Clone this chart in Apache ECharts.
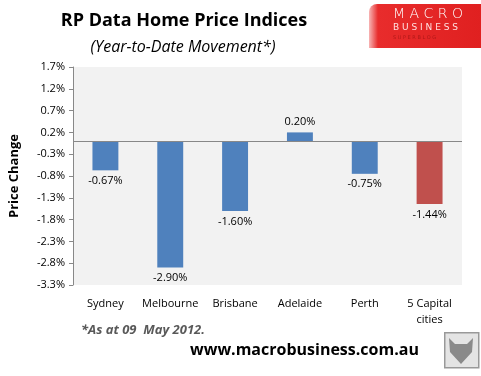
<!DOCTYPE html>
<html>
<head>
<meta charset="utf-8">
<script src="https://cdn.jsdelivr.net/npm/echarts@6/dist/echarts.min.js"></script>
<style>
  html, body { margin: 0; padding: 0; background: #fff; }
  #main { width: 481px; height: 376px; }
</style>
</head>
<body>
<div id="main"></div>
<script>
// 数据
var cities = ['Sydney', 'Melbourne', 'Brisbane', 'Adelaide', 'Perth', '5 Capital\ncities'];
var changes = [-0.67, -2.90, -1.60, 0.20, -0.75, -1.44];
var barColors = ['#4f81bd', '#4f81bd', '#4f81bd', '#4f81bd', '#4f81bd', '#c0504d'];

var myChart = echarts.init(document.getElementById('main'));

var option = {
    backgroundColor: '#fff',
    animation: false,
    textStyle: { fontFamily: 'Open Sans' },
    grid: { left: 66, right: 19, top: 67, bottom: 91, backgroundColor: '#f2f2f2', show: true, borderWidth: 0 },
    title: [
        { text: 'RP Data Home Price Indices', left: 179, top: 7, textAlign: 'center',
          textStyle: { fontSize: 18, fontWeight: 'bold', color: '#000', fontFamily: 'Open Sans' } },
        { text: '(Year-to-Date Movement*)', left: 178, top: 34, textAlign: 'center',
          textStyle: { fontSize: 16, fontStyle: 'italic', fontWeight: 'normal', color: '#000', fontFamily: 'Open Sans' } }
    ],
    xAxis: {
        type: 'category',
        data: cities,
        axisLine: { show: false },
        axisTick: { show: false },
        axisLabel: { color: '#000', fontSize: 11, margin: 11, lineHeight: 16, interval: 0 }
    },
    yAxis: {
        type: 'value',
        min: -3.3,
        max: 1.7,
        interval: 0.5,
        name: 'Price Change',
        nameLocation: 'middle',
        nameRotate: 90,
        nameGap: 52,
        nameTextStyle: { fontSize: 13, fontWeight: 'bold', color: '#000' },
        axisLine: { show: true, onZero: false, lineStyle: { color: '#888' } },
        axisTick: { show: true, length: 4, lineStyle: { color: '#888' } },
        splitLine: { show: false },
        axisLabel: {
            color: '#000', fontSize: 11, margin: 8,
            formatter: function (v) { return v.toFixed(1) + '%'; }
        }
    },
    series: [{
        type: 'bar',
        barWidth: '40%',
        data: changes.map(function (v, i) {
            return {
                value: v,
                itemStyle: { color: barColors[i] },
                label: { position: v < 0 ? 'bottom' : 'top' }
            };
        }),
        label: {
            show: true,
            color: '#000',
            fontSize: 11,
            distance: 5,
            formatter: function (p) { return p.value.toFixed(2) + '%'; }
        },
        markLine: {
            silent: true,
            symbol: 'none',
            label: { show: false },
            lineStyle: { color: '#888', width: 1, type: 'solid' },
            data: [{ yAxis: 0 }]
        }
    }],
    graphic: [
        // logo
        { type: 'rect', left: 369, top: 4, shape: { width: 112, height: 44, r: [8, 0, 0, 0] },
          style: { fill: new echarts.graphic.LinearGradient(0, 0, 1, 0, [
              { offset: 0, color: '#f7b5b5' }, { offset: 0.08, color: '#e82c2c' }, { offset: 1, color: '#e02020' }]) } },
        { type: 'text', left: 393, top: 7, style: { text: 'M A C R O', fill: '#fff', font: '300 14px "DejaVu Sans"' } },
        { type: 'text', left: 393, top: 23, style: { text: 'B U S I N E S S', fill: '#ffe0e0', font: '9px "DejaVu Sans"' } },
        { type: 'text', left: 393, top: 35, style: { text: 'S U P E R B L O G', fill: '#b01818', font: '5px "DejaVu Sans"' } },
        // footnote
        { type: 'text', left: 81, top: 324, style: { text: '*As at 09  May 2012.', fill: '#595959',
          font: 'italic bold 13px "Open Sans"' } },
        { type: 'text', left: 190, top: 342, style: { text: 'www.macrobusiness.com.au', fill: '#000',
          font: 'bold 16px "Open Sans"' } },
        // wolf box
        { type: 'rect', left: 444, top: 332, shape: { width: 34, height: 35 },
          style: { fill: '#e4e4e4', stroke: '#999', lineWidth: 1.5 } },
        { type: 'polygon', shape: { points: [[449, 338], [455, 344], [467, 344], [473, 338], [472, 352], [461, 364], [450, 352]] },
          style: { fill: '#8a8a8a' } }
    ]
};

myChart.setOption(option);
</script>
</body>
</html>
